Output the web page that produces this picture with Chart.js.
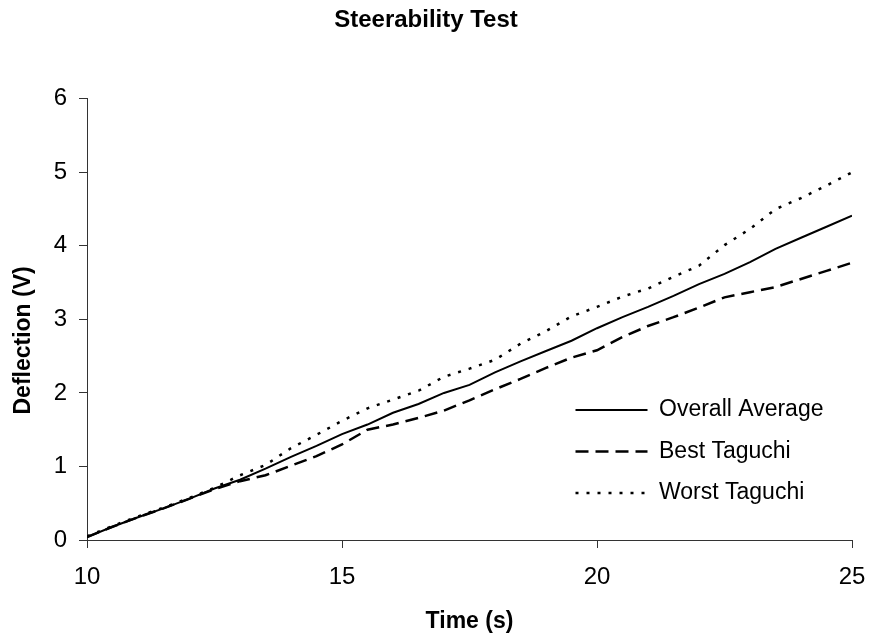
<!DOCTYPE html>
<html>
<head>
<meta charset="utf-8">
<title>Steerability Test</title>
<script src="https://cdn.jsdelivr.net/npm/chart.js@4/dist/chart.umd.min.js"></script>
<style>
  body { margin: 0; background: #fff; }
  #wrap { width: 870px; height: 640px; }
</style>
</head>
<body>
<div id="wrap"><canvas id="myChart" width="870" height="640"></canvas></div>
<script>
// time axis (s), sampled every 0.5 s
var times = [10, 10.5, 11, 11.5, 12, 12.5, 13, 13.5, 14, 14.5, 15, 15.5, 16, 16.5, 17, 17.5,
             18, 18.5, 19, 19.5, 20, 20.5, 21, 21.5, 22, 22.5, 23, 23.5, 24, 24.5, 25];

var overallAvg = [0.04, 0.18, 0.31, 0.43, 0.56, 0.70, 0.82, 0.97, 1.13, 1.28, 1.44, 1.57, 1.73, 1.85, 2.00, 2.11,
                  2.28, 2.43, 2.57, 2.71, 2.88, 3.03, 3.17, 3.32, 3.48, 3.62, 3.78, 3.96, 4.11, 4.26, 4.41];
var bestTaguchi = [0.04, 0.18, 0.31, 0.43, 0.56, 0.69, 0.80, 0.88, 1.01, 1.14, 1.30, 1.50, 1.57, 1.66, 1.76, 1.90,
                   2.05, 2.19, 2.34, 2.48, 2.58, 2.76, 2.91, 3.03, 3.16, 3.30, 3.37, 3.44, 3.55, 3.66, 3.77];
var worstTaguchi = [0.05, 0.19, 0.32, 0.44, 0.57, 0.71, 0.88, 1.02, 1.25, 1.43, 1.62, 1.79, 1.91, 2.03, 2.22, 2.33,
                    2.45, 2.67, 2.84, 3.04, 3.17, 3.31, 3.42, 3.58, 3.73, 4.01, 4.23, 4.50, 4.65, 4.82, 5.00];

var seriesNames = ["Overall Average", "Best Taguchi", "Worst Taguchi"];
var xTicks = [10, 15, 20, 25];
var yTicks = [0, 1, 2, 3, 4, 5, 6];

var fam = "'Liberation Sans', Arial, sans-serif";

function pts(vals) {
    var out = [];
    for (var i = 0; i < times.length; i++) {
        out.push({x: times[i], y: vals[i]});
    }
    return out;
}

// move the legend into the lower right of the plot,
// and nudge the y title down a bit like the original
var legendSpot = {
    id: "legendSpot",
    afterLayout: function(chart) {
        var lg = chart.legend;
        if (lg) {
            var w = lg.width, h = lg.height;
            lg.left = 557; lg.top = 380;
            lg.right = lg.left + w; lg.bottom = lg.top + h;
        }
        var ys = chart.scales.y;
        if (ys && !ys._nudged) {
            var orig = ys.drawTitle;
            ys.drawTitle = function() {
                this.ctx.save();
                this.ctx.translate(0, 21);
                orig.apply(this, arguments);
                this.ctx.restore();
            };
            ys._nudged = true;
        }
    }
};

var ctx = document.getElementById("myChart").getContext("2d");
var myChart = new Chart(ctx, {
    type: "line",
    data: {
        datasets: [
            {
                label: seriesNames[0],
                data: pts(overallAvg),
                borderColor: "#000",
                backgroundColor: "#000",
                borderWidth: 2,
                borderDash: []
            },
            {
                label: seriesNames[1],
                data: pts(bestTaguchi),
                borderColor: "#000",
                backgroundColor: "#000",
                borderWidth: 2.5,
                borderDash: [13, 7]
            },
            {
                label: seriesNames[2],
                data: pts(worstTaguchi),
                borderColor: "#000",
                backgroundColor: "#000",
                borderWidth: 2.5,
                borderDash: [3, 8]
            }
        ]
    },
    options: {
        responsive: false,
        animation: false,
        layout: { padding: { left: 0, right: 18, top: 0, bottom: 0 } },
        elements: {
            point: { radius: 0 },
            line: { tension: 0, fill: false }
        },
        plugins: {
            title: {
                display: true,
                text: "Steerability Test",
                color: "#000",
                font: { family: fam, size: 24, weight: "bold" },
                padding: { top: 6, bottom: 64 }
            },
            legend: {
                display: true,
                position: "chartArea",
                align: "start",
                labels: {
                    color: "#000",
                    font: { family: fam, size: 23 },
                    usePointStyle: true,
                    pointStyle: "line",
                    pointStyleWidth: 72,
                    padding: 18.5,
                    generateLabels: function(chart) {
                        var items = Chart.defaults.plugins.legend.labels.generateLabels(chart);
                        items.forEach(function(it) {
                            var ds = chart.data.datasets[it.datasetIndex];
                            it.lineDash = ds.borderDash;
                            it.lineWidth = ds.borderWidth;
                            it.strokeStyle = "#000";
                        });
                        return items;
                    }
                }
            },
            tooltip: { enabled: false }
        },
        scales: {
            x: {
                type: "linear",
                min: 10,
                max: 25,
                afterFit: function(s) { s.height = 100; s.paddingRight = 0; },
                afterBuildTicks: function(s) { s.ticks = xTicks.map(function(v) { return {value: v}; }); },
                ticks: {
                    color: "#000",
                    font: { family: fam, size: 24 },
                    padding: 15,
                    maxRotation: 0
                },
                grid: { drawOnChartArea: false, drawTicks: true, tickLength: 8, color: "#333" },
                border: { display: true, color: "#333", width: 1 },
                title: {
                    display: true,
                    text: "Time (s)",
                    color: "#000",
                    font: { family: fam, size: 23, weight: "bold" },
                    padding: { top: 0, bottom: 5 }
                }
            },
            y: {
                type: "linear",
                min: 0,
                max: 6,
                afterFit: function(s) { s.width = 87; },
                afterBuildTicks: function(s) { s.ticks = yTicks.map(function(v) { return {value: v}; }); },
                ticks: {
                    color: "#000",
                    font: { family: fam, size: 24 },
                    padding: 12
                },
                grid: { drawOnChartArea: false, drawTicks: true, tickLength: 8, color: "#333" },
                border: { display: true, color: "#333", width: 1 },
                title: {
                    display: true,
                    text: "Deflection (V)",
                    color: "#000",
                    font: { family: fam, size: 23, weight: "bold" },
                    padding: { top: 10, bottom: 0 }
                }
            }
        }
    },
    plugins: [legendSpot]
});
</script>
</body>
</html>
